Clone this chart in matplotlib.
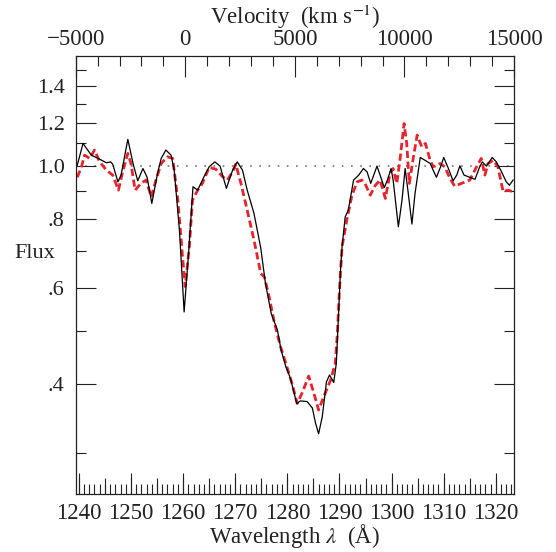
import matplotlib.pyplot as plt
import matplotlib.ticker as mticker
import numpy as np

plt.rcParams["font.family"] = ["Liberation Serif", "DejaVu Serif"]
plt.rcParams["mathtext.fontset"] = "stix"

C_KMS = 299792.458
LAM0 = 1260.42  # Si II rest wavelength used for the velocity scale

black_wave = [
    1239.7, 1240.8, 1242.4, 1243.7, 1245.3, 1246.1, 1246.5, 1247.5, 1248.1, 1249.4,
    1250.4, 1251.3, 1252.3, 1253.1, 1254.0, 1255.1, 1255.8, 1256.7, 1257.7, 1258.3,
    1259.3, 1260.2, 1261.1, 1261.9, 1262.8, 1264.0, 1265.0, 1266.1, 1267.1, 1268.3,
    1269.5, 1270.4, 1271.4, 1272.3, 1273.6, 1274.9, 1275.8, 1276.9, 1278.1, 1278.8,
    1279.7, 1280.6, 1281.8, 1282.5, 1283.8, 1284.8, 1285.4, 1286.0, 1286.7, 1287.5,
    1288.1, 1288.9, 1289.4, 1289.8, 1290.2, 1290.5, 1291.1, 1291.7, 1292.7, 1293.7,
    1294.6, 1295.3, 1296.0, 1297.2, 1297.9, 1298.6, 1299.2, 1299.9, 1300.3, 1301.3,
    1302.0, 1302.6, 1303.2, 1303.9, 1304.5, 1305.5, 1306.4, 1307.4, 1308.6, 1309.4,
    1310.0, 1310.9, 1311.8, 1312.5, 1313.1, 1313.9, 1315.0, 1316.0, 1316.9, 1317.4,
    1318.2, 1319.3, 1320.1, 1321.1, 1322.0, 1322.6, 1323.3,
]
black_flux = [
    1.004, 1.100, 1.047, 1.033, 1.014, 1.018, 1.008, 0.936, 0.963, 1.119,
    1.011, 0.940, 0.990, 0.954, 0.855, 0.970, 1.033, 1.070, 1.047, 0.983,
    0.764, 0.542, 0.703, 0.917, 0.904, 0.956, 0.997, 1.018, 1.000, 0.911,
    0.983, 1.018, 0.983, 0.904, 0.820, 0.709, 0.611, 0.539, 0.502, 0.462,
    0.431, 0.410, 0.369, 0.373, 0.372, 0.362, 0.340, 0.325, 0.349, 0.404,
    0.416, 0.403, 0.437, 0.531, 0.646, 0.713, 0.808, 0.831, 0.943, 0.963,
    0.990, 0.976, 0.930, 1.000, 0.956, 0.914, 0.943, 0.990, 0.943, 0.775,
    0.867, 0.990, 0.892, 0.784, 0.892, 1.037, 1.025, 1.011, 0.954, 0.997,
    1.037, 0.990, 0.940, 0.963, 1.001, 0.963, 0.954, 0.946, 0.997, 1.018,
    1.000, 1.037, 1.018, 0.976, 0.936, 0.923, 0.943,
]

red_wave = [
    1239.7, 1240.5, 1241.1, 1242.1, 1243.0, 1244.0, 1245.3, 1246.5, 1247.6, 1248.4,
    1249.4, 1250.0, 1250.8, 1251.9, 1252.9, 1253.9, 1254.8, 1255.8, 1257.0, 1258.0,
    1259.0, 1259.9, 1260.4, 1261.2, 1261.8, 1262.8, 1263.7, 1265.0, 1266.3, 1267.6,
    1268.5, 1269.5, 1270.1, 1271.1, 1272.3, 1273.6, 1274.9, 1275.6, 1276.5, 1277.4,
    1278.7, 1279.8, 1280.9, 1281.9, 1282.8, 1284.1, 1285.1, 1286.0, 1287.0, 1288.3,
    1289.2, 1289.6, 1290.0, 1290.5, 1291.4, 1292.4, 1293.4, 1294.3, 1294.9, 1295.9,
    1296.9, 1297.8, 1298.8, 1299.7, 1300.3, 1301.0, 1301.6, 1302.4, 1302.9, 1303.4,
    1304.2, 1304.9, 1305.8, 1306.5, 1307.4, 1308.0, 1309.3, 1310.2, 1311.2, 1312.1,
    1313.4, 1315.0, 1316.3, 1317.2, 1317.9, 1318.5, 1319.5, 1320.4, 1321.4, 1322.3,
    1323.3,
]
red_flux = [
    0.954, 0.997, 1.047, 1.033, 1.070, 1.018, 0.983, 0.963, 0.904, 0.976,
    1.055, 1.011, 0.904, 0.930, 0.943, 0.879, 0.943, 1.011, 1.040, 1.033,
    0.867, 0.683, 0.603, 0.713, 0.867, 0.904, 0.930, 0.995, 0.987, 0.956,
    0.943, 0.976, 1.008, 0.930, 0.831, 0.733, 0.637, 0.628, 0.578, 0.524,
    0.468, 0.434, 0.401, 0.369, 0.385, 0.414, 0.385, 0.359, 0.380, 0.407,
    0.437, 0.496, 0.594, 0.713, 0.797, 0.885, 0.936, 0.943, 0.930, 0.885,
    0.923, 0.943, 0.873, 0.970, 0.990, 0.930, 1.025, 1.196, 1.100, 0.930,
    1.040, 1.139, 1.084, 1.100, 1.025, 0.997, 1.011, 0.997, 0.950, 0.919,
    0.930, 0.943, 0.997, 1.033, 0.963, 1.011, 1.025, 0.997, 0.898, 0.904,
    0.898,
]

flux_ticks = [0.4, 0.6, 0.8, 1.0, 1.2, 1.4]
flux_labels = [".4", ".6", ".8", "1.0", "1.2", "1.4"]
flux_minor = [0.3, 0.5, 0.7, 0.9, 1.1, 1.3, 1.5]
vel_ticks = [-5000, 0, 5000, 10000, 15000]
vel_labels = ["\u22125000", "0", "5000", "10000", "15000"]

INK = "#222222"
FS_Y = 16
FS_X = 16.5


def lam_to_vel(lam):
    return C_KMS * (np.asarray(lam) / LAM0 - 1.0)


def vel_to_lam(v):
    return LAM0 * (1.0 + np.asarray(v) / C_KMS)


W, H = 556, 552
fig = plt.figure(figsize=(W / 100, H / 100), dpi=100)
left, right, top, bottom = 75.7, 514.0, 55.7, 494.3
ax = fig.add_axes([left / W, 1 - bottom / H, (right - left) / W, (bottom - top) / H])

ax.axhline(1.0, color="#777777", lw=1.2, ls=(0, (1, 4.5)), zorder=1)
ax.plot(red_wave, red_flux, color="#e8232b", lw=2.0, ls=(0, (2.6, 1.3)), zorder=2)
ax.plot(black_wave, black_flux, color="black", lw=0.9, zorder=3)

ax.set_yscale("log")
ax.set_ylim(0.252, 1.59)
ax.set_xlim(vel_to_lam(-5000), vel_to_lam(15000))

ax.yaxis.set_major_locator(mticker.FixedLocator(flux_ticks))
ax.yaxis.set_major_formatter(mticker.FixedFormatter(flux_labels))
ax.yaxis.set_minor_locator(mticker.FixedLocator(flux_minor))
ax.yaxis.set_minor_formatter(mticker.NullFormatter())

ax.xaxis.set_major_locator(mticker.MultipleLocator(10))
ax.xaxis.set_minor_locator(mticker.MultipleLocator(1))
ax.xaxis.set_major_formatter(mticker.FormatStrFormatter("%d"))

ax.tick_params(axis="both", which="both", direction="in", colors=INK, width=0.8)
ax.tick_params(axis="y", labelsize=FS_Y)
ax.tick_params(axis="x", labelsize=FS_X)
ax.tick_params(axis="x", which="both", top=False, bottom=True)
ax.tick_params(axis="y", which="both", left=True, right=True)
ax.tick_params(axis="y", which="major", length=14.5, pad=8)
ax.tick_params(axis="y", which="minor", length=7.5)
ax.tick_params(axis="x", which="major", length=15, pad=6)
ax.tick_params(axis="x", which="minor", length=7.5)

# medium ticks every 5 A
mid = ax.secondary_xaxis("bottom")
mid.xaxis.set_major_locator(mticker.MultipleLocator(5))
mid.xaxis.set_major_formatter(mticker.NullFormatter())
mid.tick_params(direction="in", length=11.5, width=0.8, colors=INK)
mid.spines["bottom"].set_visible(False)

sec = ax.secondary_xaxis("top", functions=(lam_to_vel, vel_to_lam))
sec.xaxis.set_major_locator(mticker.FixedLocator(vel_ticks))
sec.xaxis.set_major_formatter(mticker.FixedFormatter(vel_labels))
sec.xaxis.set_minor_locator(mticker.MultipleLocator(1000))
sec.tick_params(which="both", direction="in", colors=INK, width=0.8, labelsize=FS_X)
sec.tick_params(which="major", length=15, pad=4)
sec.tick_params(which="minor", length=7.5)
sec.spines["top"].set_visible(False)
sec.set_xlabel("Velocity  (km s$^{-1}$)", fontsize=FS_X, color=INK, labelpad=4)

for s in ax.spines.values():
    s.set_color(INK)
    s.set_linewidth(0.9)

ax.set_xlabel("Wavelength $\\lambda$  (\u00c5)", fontsize=FS_X, color=INK, labelpad=-1)
ax.set_ylabel("Flux", rotation=0, fontsize=FS_Y, color=INK, ha="center", va="center")
ax.yaxis.set_label_coords(-0.093, 0.55)

fig.savefig("out.png", dpi=100)
